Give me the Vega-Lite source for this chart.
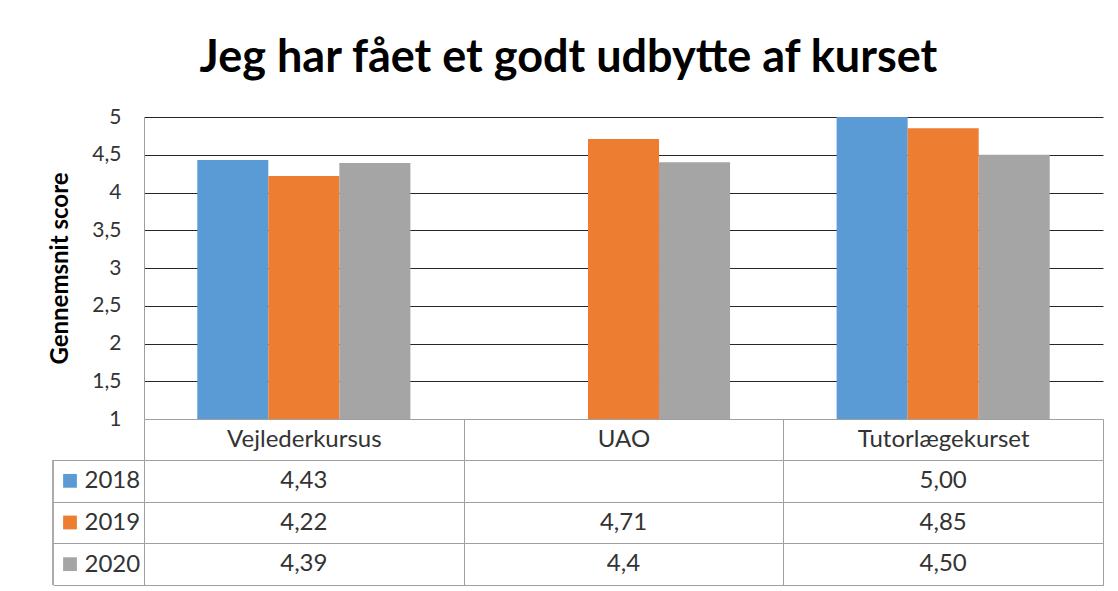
{
  "$schema": "https://vega.github.io/schema/vega-lite/v6.json",
  "autosize": {"type": "pad"},
  "padding": {"left": 48, "top": 36, "right": 10, "bottom": 5},
  "background": "white",
  "title": {
    "text": "Jeg har fået et godt udbytte af kurset",
    "font": "Lato",
    "fontSize": 45,
    "fontWeight": "bold",
    "color": "#000000",
    "anchor": "middle",
    "offset": 25,
    "dx": -8
  },
  "config": {
    "view": {"stroke": null},
    "font": "Lato",
    "axis": {"labelFont": "Lato", "titleFont": "Lato"}
  },
  "datasets": {
    "scores": [
      {"kursus": "Vejlederkursus", "year": "2018", "score": 4.43, "label": "4,43"},
      {"kursus": "Vejlederkursus", "year": "2019", "score": 4.22, "label": "4,22"},
      {"kursus": "Vejlederkursus", "year": "2020", "score": 4.39, "label": "4,39"},
      {"kursus": "UAO", "year": "2019", "score": 4.71, "label": "4,71"},
      {"kursus": "UAO", "year": "2020", "score": 4.4, "label": "4,4"},
      {"kursus": "Tutorlægekurset", "year": "2018", "score": 5.0, "label": "5,00"},
      {"kursus": "Tutorlægekurset", "year": "2019", "score": 4.85, "label": "4,85"},
      {"kursus": "Tutorlægekurset", "year": "2020", "score": 4.5, "label": "4,50"}
    ],
    "years": [
      {"year": "2018"},
      {"year": "2019"},
      {"year": "2020"}
    ]
  },
  "bounds": "flush",
  "spacing": 41,
  "vconcat": [
    {
      "data": {"name": "scores"},
      "width": 959,
      "height": 302,
      "mark": {"type": "bar"},
      "encoding": {
        "x": {
          "field": "kursus",
          "type": "nominal",
          "sort": ["Vejlederkursus", "UAO", "Tutorlægekurset"],
          "scale": {"domain": ["Vejlederkursus", "UAO", "Tutorlægekurset"], "paddingInner": 0, "paddingOuter": 0},
          "axis": null
        },
        "xOffset": {
          "field": "year",
          "type": "nominal",
          "scale": {"domain": ["2018", "2019", "2020"], "paddingInner": 0, "paddingOuter": 0.75}
        },
        "y": {
          "field": "score",
          "type": "quantitative",
          "scale": {"domain": [1, 5], "nice": false, "zero": false},
          "axis": {
            "values": [1, 1.5, 2, 2.5, 3, 3.5, 4, 4.5, 5],
            "format": "~g",
            "labelExpr": "replace(datum.label, '.', ',')",
            "title": "Gennemsnit score",
            "titleFontSize": 24,
            "titleFontWeight": "bold",
            "titleColor": "#000000",
            "titlePadding": 19,
            "labelFontSize": 21,
            "labelColor": "#333333",
            "labelPadding": 23,
            "ticks": false,
            "domain": true,
            "domainColor": "#A0A0A0",
            "grid": true,
            "gridColor": {"condition": {"test": "datum.value === 1", "value": "#A0A0A0"}, "value": "#262626"},
            "gridOpacity": 1
          }
        },
        "y2": {"datum": 1},
        "color": {
          "field": "year",
          "type": "nominal",
          "scale": {"domain": ["2018", "2019", "2020"], "range": ["#5B9BD5", "#ED7D31", "#A5A5A5"]},
          "legend": null
        }
      }
    },
    {
      "width": 959,
      "height": 125,
      "view": {"stroke": "#A0A0A0"},
      "encoding": {
        "x": {
          "field": "kursus",
          "type": "nominal",
          "sort": ["Vejlederkursus", "UAO", "Tutorlægekurset"],
          "scale": {"domain": ["Vejlederkursus", "UAO", "Tutorlægekurset"], "paddingInner": 0, "paddingOuter": 0},
          "axis": {
            "orient": "top",
            "title": null,
            "labelAngle": 0,
            "labelFontSize": 24,
            "labelColor": "#333333",
            "labelBaseline": "middle",
            "labelPadding": -20,
            "tickBand": "extent",
            "tickSize": 41,
            "tickColor": "#A0A0A0",
            "domainColor": "#A0A0A0",
            "grid": true,
            "gridColor": "#A0A0A0",
            "gridOpacity": 1
          }
        },
        "y": {
          "field": "year",
          "type": "nominal",
          "scale": {"domain": ["2018", "2019", "2020"], "paddingInner": 0, "paddingOuter": 0},
          "axis": {
            "title": null,
            "labelFontSize": 24,
            "labelColor": "#333333",
            "labelAlign": "left",
            "labelBaseline": "middle",
            "labelPadding": -31,
            "tickBand": "extent",
            "tickSize": 91,
            "tickColor": "#A0A0A0",
            "domain": false,
            "grid": true,
            "gridColor": "#A0A0A0",
            "gridOpacity": 1
          }
        }
      },
      "layer": [
        {
          "data": {"name": "scores"},
          "mark": {"type": "text", "fontSize": 24, "color": "#333333", "align": "center", "baseline": "middle"},
          "encoding": {
            "text": {"field": "label", "type": "nominal"}
          }
        },
        {
          "data": {"name": "years"},
          "mark": {"type": "point", "shape": "square", "filled": true, "opacity": 1, "size": 190, "xOffset": -74},
          "encoding": {
            "x": {"datum": "Vejlederkursus", "type": "nominal", "bandPosition": 0},
            "color": {
              "field": "year",
              "type": "nominal",
              "scale": {"domain": ["2018", "2019", "2020"], "range": ["#5B9BD5", "#ED7D31", "#A5A5A5"]},
              "legend": null
            }
          }
        },
        {
          "data": {"name": "years"},
          "mark": {"type": "rule", "color": "#A0A0A0", "xOffset": -91},
          "encoding": {
            "x": {"datum": "Vejlederkursus", "type": "nominal", "bandPosition": 0},
            "y": null
          }
        }
      ]
    }
  ]
}
